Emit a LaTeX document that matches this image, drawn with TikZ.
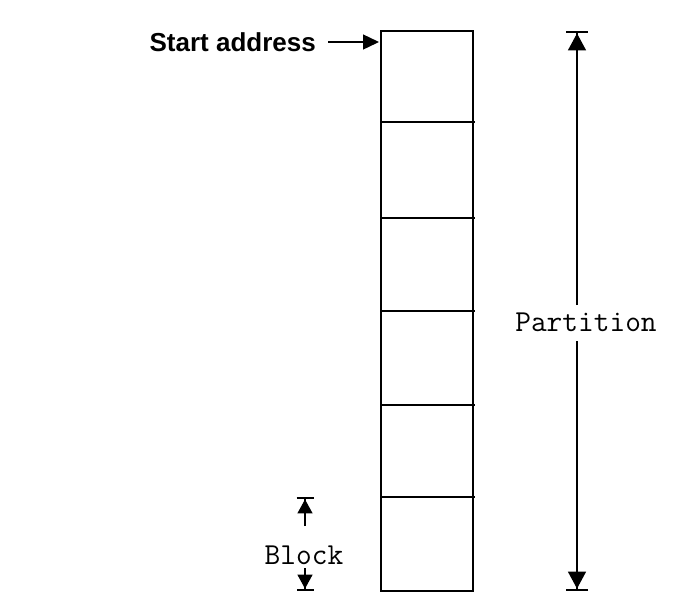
\documentclass[tikz,border=0pt]{standalone}
\usepackage{fontspec}
\setmainfont{Liberation Sans}
\usetikzlibrary{arrows.meta}
\begin{document}
\begin{tikzpicture}[x=1pt,y=-1pt,
  box/.style={draw,line width=1.3pt},
  dim/.style={line width=1.4pt},
  bigtip/.style={-{Triangle[length=17pt,width=18pt]Bar[width=22pt,line width=2.4pt]}},
  smalltip/.style={-{Triangle[length=14pt,width=15pt]Bar[width=17pt,line width=2.4pt]}},
  monolbl/.style={font=\ttfamily\fontsize{30.5}{32}\selectfont,inner sep=0pt},
  startlbl/.style={font=\bfseries\fontsize{26}{28}\selectfont,inner sep=0pt}]
\useasboundingbox[fill=white] (0,0) rectangle (684,598);
% column
\draw[box] (381,31) rectangle (473,591);
\coordinate (d1l) at (381,122); \coordinate (d1r) at (475,122);
\coordinate (d2l) at (381,218); \coordinate (d2r) at (475,218);
\coordinate (d3l) at (381,311); \coordinate (d3r) at (475,311);
\coordinate (d4l) at (381,405); \coordinate (d4r) at (475,405);
\coordinate (d5l) at (381,497); \coordinate (d5r) at (475,497);
\foreach \i in {1,...,5} {\draw[box] (d\i l) -- (d\i r);}
% start address
\node[startlbl,anchor=east] (start) at (316,42) {Start address};
\coordinate (startfrom) at (328,42);
\coordinate (starttop) at (379,42);
\draw[dim,-{Triangle[length=16pt,width=15pt]}] (startfrom) -- (starttop);
% partition
\node[monolbl] (part) at (586,322) {Partition};
\coordinate (ptopa) at (577,305);
\coordinate (ptop) at (577,31);
\coordinate (pbota) at (577,341);
\coordinate (pbot) at (577,591);
\draw[dim,bigtip] (ptopa) -- (ptop);
\draw[dim,bigtip] (pbota) -- (pbot);
% block
\node[monolbl] (block) at (304,555) {Block};
\coordinate (btopa) at (305,526);
\coordinate (btop) at (305,497);
\coordinate (bbota) at (305,568);
\coordinate (bbot) at (305,591);
\draw[dim,smalltip] (btopa) -- (btop);
\draw[dim,smalltip] (bbota) -- (bbot);
\end{tikzpicture}
\end{document}
